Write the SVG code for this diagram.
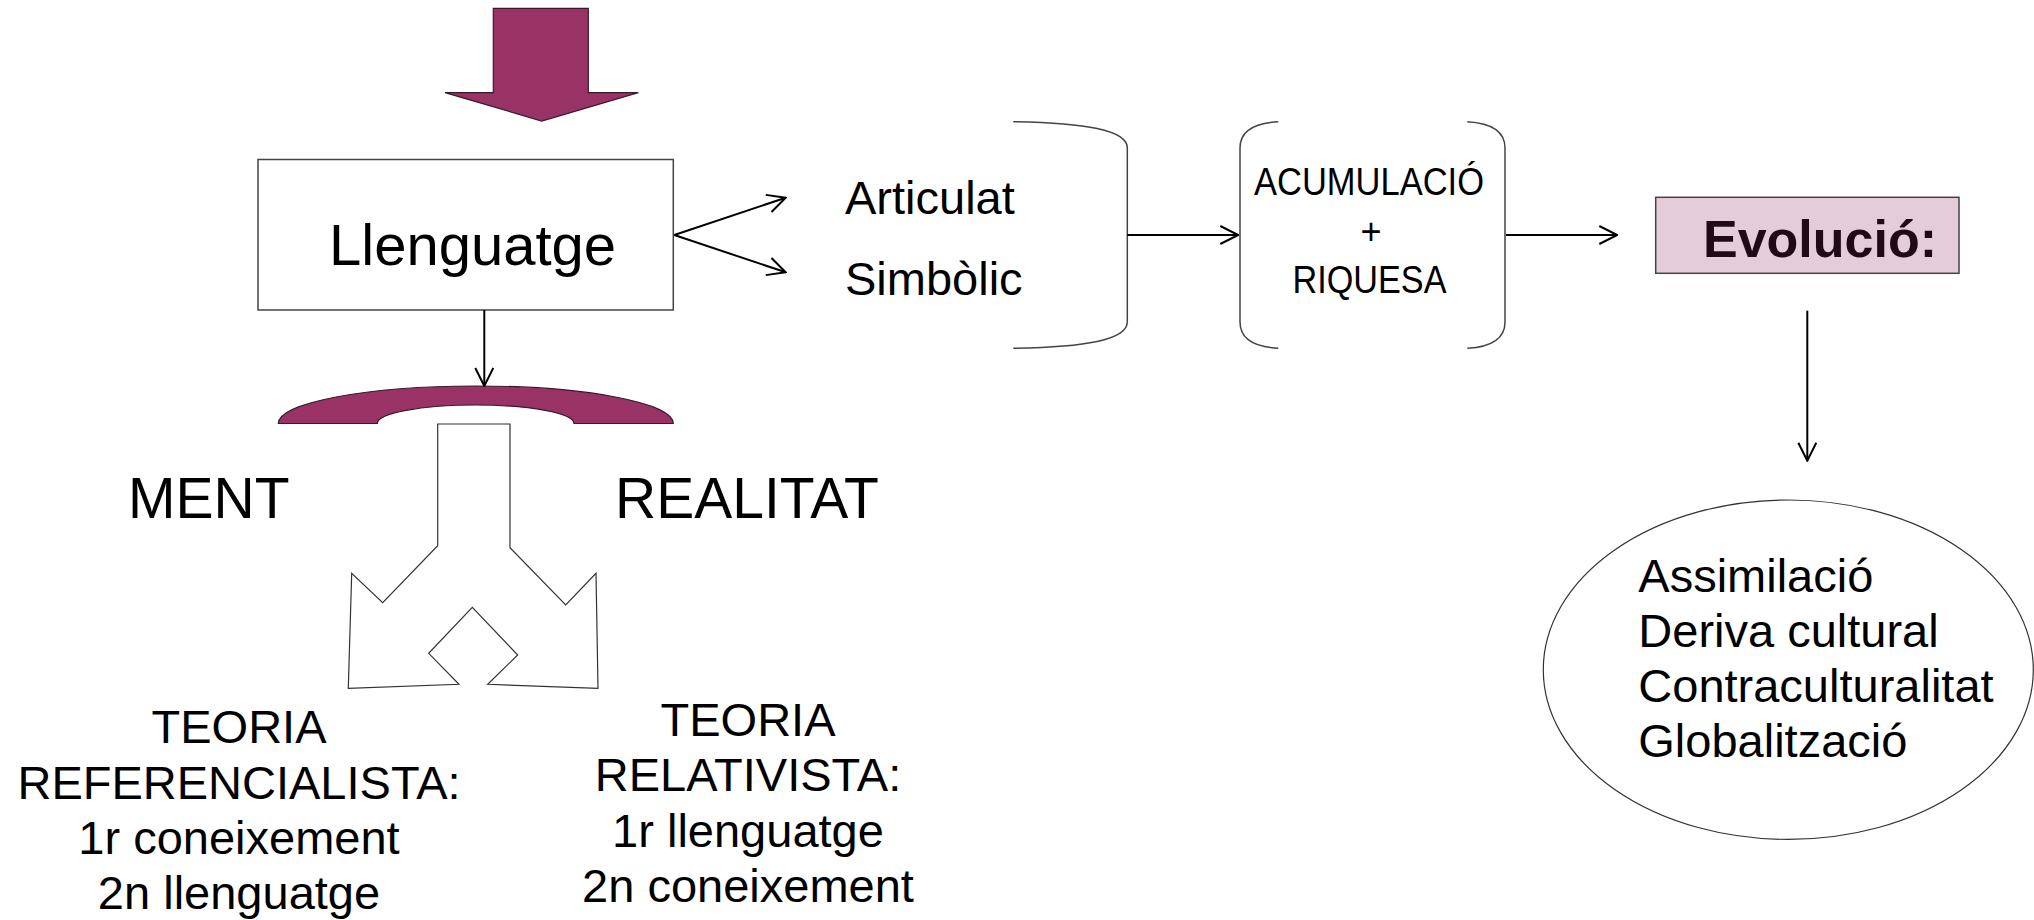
<svg xmlns="http://www.w3.org/2000/svg" width="2034" height="920" viewBox="0 0 2034 920">
<style>
text{font-family:"Liberation Sans",Arial,sans-serif;fill:#000}
.big{font-size:57px}
.mid{font-size:47px}
.box{fill:#fff;stroke:#444;stroke-width:1.5}
.brk{fill:none;stroke:#444;stroke-width:1.5}
.conn{fill:none;stroke:#000;stroke-width:2}
.maroon{fill:#993366;stroke:#3a1a2a;stroke-width:1.2}
</style>
<defs>
<marker id="arr" viewBox="0 0 20 20" refX="19" refY="10" markerWidth="20" markerHeight="20" markerUnits="userSpaceOnUse" orient="auto">
<path d="M1,1 L19,10 L1,19" fill="none" stroke="#000" stroke-width="2"/>
</marker>
</defs>
<rect width="2034" height="920" fill="#fff"/>

<g id="top-arrow">
<polygon class="maroon" points="493.3,8.3 588.3,8.3 588.3,92.7 638.3,92.7 541.7,121 445,92.7 493.3,92.7"/>
</g>

<g id="llenguatge">
<rect class="box" x="258" y="159.5" width="415.3" height="150.5"/>
<text x="329" y="265" style="font-size:58px">Llenguatge</text>
</g>

<g id="arch">
<path class="maroon" d="M278.3,423.5 A197.5,37.5 0 0 1 673.3,423.5 L574,423.5 A98.3,18.5 0 0 0 377.3,423.5 Z"/>
</g>

<g id="fork">
<polygon fill="#fff" stroke="#333" stroke-width="1.2" points="437.7,424 510,424 510,547.7 565.7,605 596,573.3 598,688.3 487.7,684.3 517.7,655 472.3,607.3 428.7,653.3 459,684.3 348.3,688.3 351.7,573.3 382.7,602.7 437.7,545.7"/>
</g>

<g id="ment"><text class="big" x="128" y="517.7">MENT</text></g>
<g id="realitat"><text class="big" x="615" y="517.7">REALITAT</text></g>

<g id="referencialista">
<text class="mid" text-anchor="middle" x="239" y="743.3">TEORIA</text>
<text class="mid" text-anchor="middle" x="239" y="798.5">REFERENCIALISTA:</text>
<text class="mid" text-anchor="middle" x="239" y="854">1r coneixement</text>
<text class="mid" text-anchor="middle" x="239" y="909.3">2n llenguatge</text>
</g>

<g id="relativista">
<text class="mid" text-anchor="middle" x="748" y="735.5">TEORIA</text>
<text class="mid" text-anchor="middle" x="748" y="791">RELATIVISTA:</text>
<text class="mid" text-anchor="middle" x="748" y="846.5">1r llenguatge</text>
<text class="mid" text-anchor="middle" x="748" y="902">2n coneixement</text>
</g>

<g id="tipus">
<path class="brk" d="M1013.3,121.7 C1085,123 1127.3,130 1127.3,148 L1127.3,322 C1127.3,340 1085,347 1013.3,348.3"/>
<text class="mid" x="845" y="214">Articulat</text>
<text class="mid" x="845" y="295">Simbòlic</text>
</g>

<g id="acumulacio">
<path class="brk" d="M1278.3,121.7 C1255,123 1240,130 1240,148 L1240,322 C1240,340 1255,347 1278.3,348.3"/>
<path class="brk" d="M1467.3,121.7 C1490,123 1505,130 1505,148 L1505,322 C1505,340 1490,347 1467.3,348.3"/>
<text text-anchor="middle" x="1369" y="195" style="font-size:39px" textLength="230" lengthAdjust="spacingAndGlyphs">ACUMULACIÓ</text>
<text text-anchor="middle" x="1371" y="244" style="font-size:36px">+</text>
<text text-anchor="middle" x="1369.5" y="292.7" style="font-size:39px" textLength="154" lengthAdjust="spacingAndGlyphs">RIQUESA</text>
</g>

<g id="evolucio">
<rect x="1655.7" y="197.3" width="303.3" height="76" fill="#E4CCD9" stroke="#444" stroke-width="1.5"/>
<text x="1703" y="257.3" style="font-size:52px;font-weight:bold;fill:#200A16">Evolució:</text>
</g>

<g id="processos">
<ellipse cx="1788.3" cy="669.7" rx="245" ry="169.7" fill="#fff" stroke="#333" stroke-width="1.2"/>
<text class="mid" x="1638.3" y="591.7">Assimilació</text>
<text class="mid" x="1638.3" y="646.7">Deriva cultural</text>
<text class="mid" x="1638.3" y="702.3">Contraculturalitat</text>
<text class="mid" x="1638.3" y="757.3">Globalització</text>
</g>

<g id="connectors">
<line class="conn" x1="484.3" y1="310" x2="484.3" y2="386" marker-end="url(#arr)"/>
<line class="conn" x1="674.3" y1="235" x2="785.7" y2="197.7" marker-end="url(#arr)"/>
<line class="conn" x1="674.3" y1="235" x2="785.7" y2="272.3" marker-end="url(#arr)"/>
<line class="conn" x1="1127.3" y1="235" x2="1238.3" y2="235" marker-end="url(#arr)"/>
<line class="conn" x1="1506" y1="235" x2="1617.3" y2="235" marker-end="url(#arr)"/>
<line class="conn" x1="1807.3" y1="310.7" x2="1807.3" y2="460.7" marker-end="url(#arr)"/>
</g>
</svg>
